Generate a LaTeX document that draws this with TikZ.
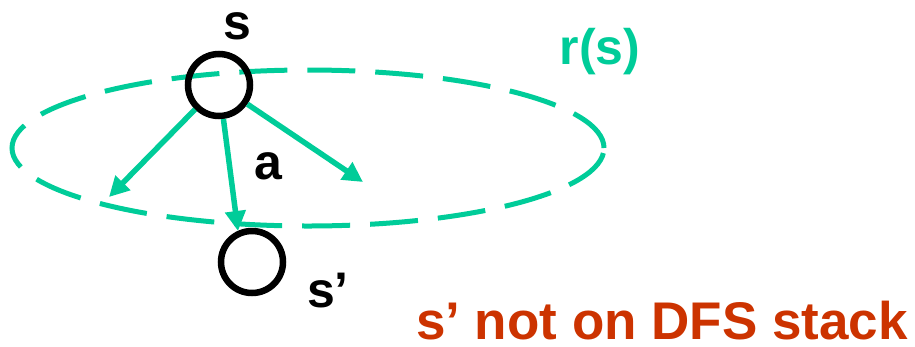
\documentclass[tikz,border=0pt]{standalone}
\usepackage{fontspec}
\setmainfont{Liberation Sans}
\usetikzlibrary{arrows.meta}
\definecolor{teal1}{RGB}{0,204,153}
\definecolor{red1}{RGB}{204,51,0}
\tikzset{
  state/.style={circle, draw=black, line width=6.5pt, minimum size=62pt, inner sep=0pt},
  reach/.style={draw=teal1, line width=5pt, dash pattern=on 48pt off 20pt},
  edge/.style={draw=teal1, line width=5.5pt, -{Triangle[length=20pt,width=20pt]}},
  lbl/.style={font=\fontsize{50}{58}\selectfont\bfseries, inner sep=0pt}
}
\begin{document}
\begin{tikzpicture}[x=1pt,y=-1pt]
\useasboundingbox (0,0) rectangle (915,346);
\path[reach] (308,148) ellipse [x radius=296pt, y radius=78pt];
\node[state] (s) at (219,85) {};
\node[state] (sp) at (252,262) {};
\coordinate (t1) at (109,197);
\coordinate (t2) at (238,231);
\coordinate (t3) at (363,182);
\draw[edge] (s) -- (t1);
\draw[edge] (s) -- (t2);
\draw[edge] (s) -- (t3);
\node[lbl] (ls) at (237,26) {s};
\node[lbl] (la) at (268,166) {a};
\node[lbl] (lsp) at (328,291) {s’};
\node[lbl, text=teal1] (lr) at (600,52) {r(s)};
\node[lbl, text=red1, anchor=base east, font=\fontsize{53}{60}\selectfont\bfseries] (note) at (908,339) {s’ not on DFS stack};
\end{tikzpicture}
\end{document}
